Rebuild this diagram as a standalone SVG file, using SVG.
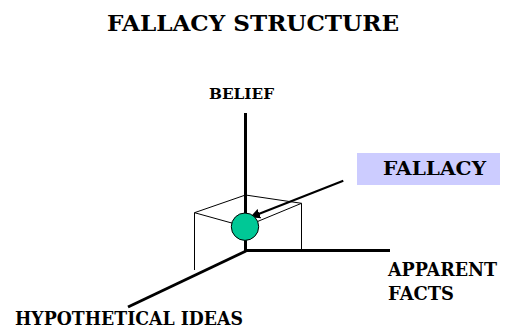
<svg xmlns="http://www.w3.org/2000/svg" width="508" height="328" viewBox="0 0 508 328">
<defs>
<style>
.t{font-family:"DejaVu Serif",serif;font-weight:bold;fill:#000}
.axis{stroke:#000;stroke-width:3;fill:none;stroke-linecap:butt}
.thin{stroke:#000;stroke-width:1;fill:none}
</style>
<marker id="ah" viewBox="0 0 10 10" refX="9" refY="5" markerWidth="5" markerHeight="5" orient="auto" markerUnits="strokeWidth">
<path d="M0,0 L10,5 L0,10 z" fill="#000"/>
</marker>
</defs>
<rect width="508" height="328" fill="#fff"/>
<text class="t" x="107" y="31" font-size="23" textLength="292" lengthAdjust="spacingAndGlyphs">FALLACY STRUCTURE</text>
<g id="connectors">
<line class="axis" x1="245.5" y1="113" x2="245.5" y2="252"/>
<line class="axis" x1="244" y1="250.5" x2="390" y2="250.5"/>
<line class="axis" x1="246" y1="251" x2="128" y2="307"/>
<polyline class="thin" points="194.5,270 194.5,212.7 245.5,195 301.5,203.3 301.5,250"/>
<line class="thin" x1="194.5" y1="212.7" x2="245" y2="226.7"/>
<line class="thin" x1="301.5" y1="203.3" x2="245" y2="226.7"/>
<line stroke="#000" stroke-width="2" x1="343.3" y1="180.7" x2="251" y2="217" marker-end="url(#ah)"/>
</g>
<g id="fallacy-point">
<circle cx="245" cy="226.7" r="13.7" fill="#00C896" stroke="#000" stroke-width="1"/>
</g>
<g id="belief">
<text class="t" x="209" y="99" font-size="15" textLength="65" lengthAdjust="spacingAndGlyphs">BELIEF</text>
</g>
<g id="fallacy">
<rect x="357" y="153" width="143" height="32" fill="#CCCCFF"/>
<text class="t" x="383" y="175" font-size="18" textLength="103" lengthAdjust="spacingAndGlyphs">FALLACY</text>
</g>
<g id="apparent-facts">
<text class="t" x="388" y="276" font-size="19" textLength="109" lengthAdjust="spacingAndGlyphs">APPARENT</text>
<text class="t" x="388" y="300" font-size="19" textLength="66" lengthAdjust="spacingAndGlyphs">FACTS</text>
</g>
<g id="hypothetical-ideas">
<text class="t" x="15" y="325" font-size="19" textLength="228" lengthAdjust="spacingAndGlyphs">HYPOTHETICAL IDEAS</text>
</g>
</svg>
